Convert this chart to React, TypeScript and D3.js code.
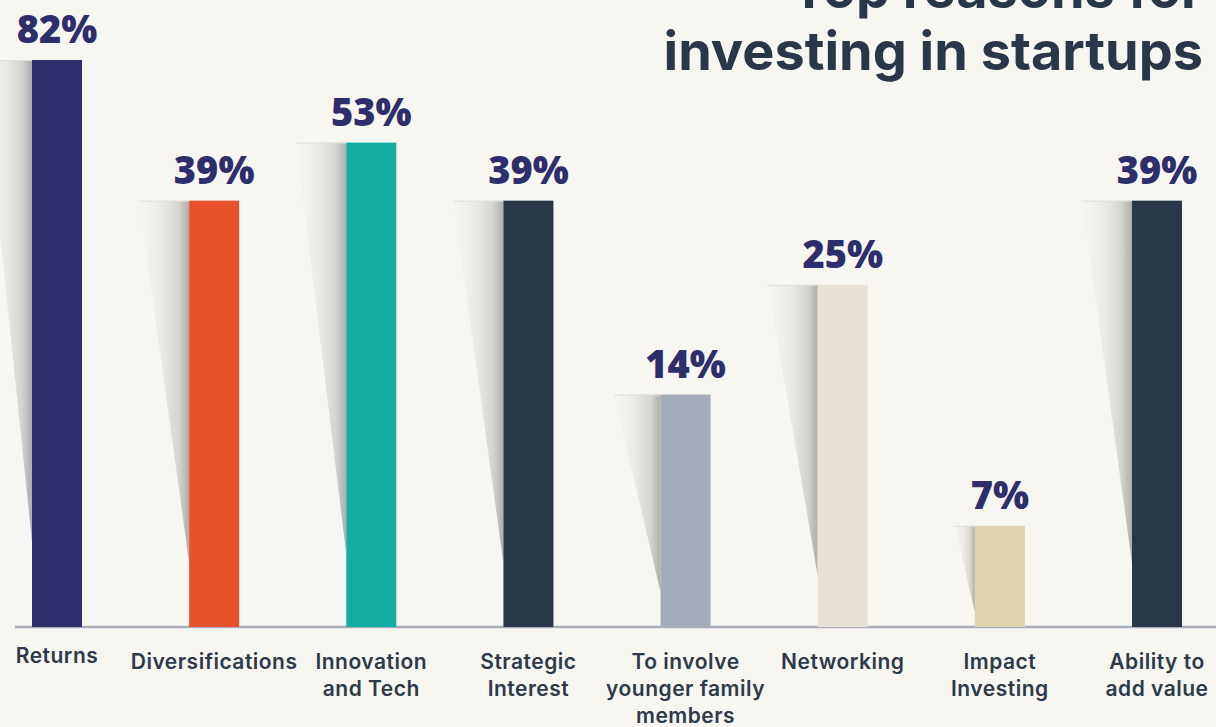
import React from "react";
import * as d3 from "d3";

const categories = [
  "Returns",
  "Diversifications",
  "Innovation\nand Tech",
  "Strategic\nInterest",
  "To involve\nyounger family\nmembers",
  "Networking",
  "Impact\nInvesting",
  "Ability to\nadd value",
];
const values = [82, 39, 53, 39, 14, 25, 7, 39];
const barColors = ["#2d2e6b", "#e5522b", "#13aea3", "#2a3748", "#a5acb9", "#e8e1d6", "#e0d4b0", "#2a3748"];
const titleLines = ["Top reasons for", "investing in startups"];

const W = 1216;
const H = 727;
const BASE = 627;
const BAR_W = 50;
const BG = "#f7f6f1";

export default function App() {
  const x = d3.scalePoint<string>().domain(categories).range([57, 1157]);
  const y = d3.scaleLog().domain([4.1, 82]).range([BASE, 60]);

  return (
    <svg
      width={W}
      height={H}
      viewBox={`0 0 ${W} ${H}`}
      style={{ position: "absolute", left: 0, top: 0, background: BG, display: "block" }}
    >
      <defs>
        <linearGradient id="shadowGrad" x1="0" x2="1" y1="0" y2="0">
          <stop offset="0%" stopColor="#e4e3de" stopOpacity={0} />
          <stop offset="45%" stopColor="#e2e1dc" stopOpacity={0.6} />
          <stop offset="80%" stopColor="#cfcec9" stopOpacity={0.9} />
          <stop offset="100%" stopColor="#acaca8" stopOpacity={1} />
        </linearGradient>
      </defs>
      <rect x={0} y={0} width={W} height={H} fill={BG} />

      {/* title */}
      <text
        textAnchor="end"
        fontFamily="Inter, 'Noto Sans', sans-serif"
        fontWeight={700}
        fontSize={54}
        fill="#2a3748"
      >
        <tspan x={1203} y={8}>{titleLines[0]}</tspan>
        <tspan x={1203} y={70}>{titleLines[1]}</tspan>
      </text>

      {/* shadows */}
      {categories.map((c, i) => {
        const cx = x(c)!;
        const left = cx - BAR_W / 2;
        const top = y(values[i]);
        const h = BASE - top;
        const sw = Math.min(50, h * 0.2);
        const bottom = BASE - h * 0.15;
        return (
          <g key={"s" + i}>
            <path
              d={`M${left - sw},${top} L${left},${top} L${left},${bottom} Z`}
              fill="url(#shadowGrad)"
            />
            <line x1={left - sw} x2={left} y1={top + 0.5} y2={top + 0.5} stroke="#e0dfd9" strokeWidth={1} />
          </g>
        );
      })}

      {/* axis line */}
      <line x1={15} x2={W} y1={BASE} y2={BASE} stroke="#a8aebb" strokeWidth={2.5} />

      {/* bars */}
      {categories.map((c, i) => {
        const cx = x(c)!;
        const top = y(values[i]);
        return (
          <rect key={"b" + i} x={cx - BAR_W / 2} y={top} width={BAR_W} height={BASE - top} fill={barColors[i]} />
        );
      })}

      {/* value labels */}
      {categories.map((c, i) => (
        <text
          key={"v" + i}
          x={x(c)!}
          y={y(values[i]) - 17}
          textAnchor="middle"
          fontFamily="'Open Sans', 'Noto Sans', sans-serif"
          fontWeight={800}
          fontSize={38}
          fill="#2d2e6b"
        >
          {values[i]}%
        </text>
      ))}

      {/* category labels */}
      {categories.map((c, i) => (
        <text
          key={"c" + i}
          textAnchor="middle"
          fontFamily="Inter, 'Noto Sans', sans-serif"
          fontWeight={600}
          fontSize={21}
          letterSpacing={0.5}
          fill="#2d3a4a"
        >
          {c.split("\n").map((line, j) => (
            <tspan key={j} x={x(c)!} y={(i === 0 ? 663 : 669) + j * 27}>
              {line}
            </tspan>
          ))}
        </text>
      ))}
    </svg>
  );
}
